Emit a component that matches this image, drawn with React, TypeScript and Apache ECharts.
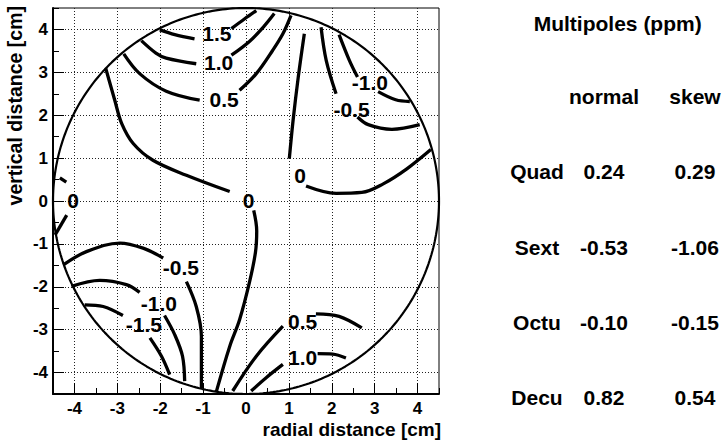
import React, { useEffect, useRef } from "react";
import * as echarts from "echarts";

const FONT = '"Liberation Sans", Arial, Helvetica, sans-serif';

// axes
const AXIS_MIN = -4.5;
const AXIS_MAX = 4.5;
const MAJOR_TICKS = [-4, -3, -2, -1, 0, 1, 2, 3, 4];
const MINOR_TICKS = [-4.5, -3.5, -2.5, -1.5, -0.5, 0.5, 1.5, 2.5, 3.5, 4.5];
const X_TITLE = "radial distance [cm]";
const Y_TITLE = "vertical distance [cm]";

// aperture (circle) radius in cm
const APERTURE_RADIUS = 4.5;

// contour segments (cm)
const c15_a = [[-2.01, 3.99], [-1.66, 3.88], [-1.2, 3.78]];
const c15_b = [[-0.34, 4.02], [-0.03, 4.25], [0.24, 4.44]];
const c10_a = [[-2.44, 3.74], [-2.1, 3.45], [-1.86, 3.33], [-1.16, 3.2]];
const c10_b = [[-0.34, 3.4], [0.08, 3.72], [0.4, 4.05], [0.66, 4.37]];
const c05_a = [[-2.85, 3.43], [-2.48, 2.97], [-1.86, 2.56], [-1.08, 2.35]];
const c05_b = [[-0.15, 2.58], [0.24, 2.97], [0.62, 3.51], [0.86, 3.9], [1.05, 4.33]];
const c00_ul = [[-3.27, 3.09], [-3.06, 2.35], [-2.9, 1.81], [-2.63, 1.34], [-2.17, 0.95], [-1.39, 0.6], [-0.38, 0.22]];
const c00_low = [[0.18, -0.22], [0.25, -0.7], [0.22, -1.2], [0.08, -1.9], [-0.15, -2.77], [-0.38, -3.39], [-0.69, -4.44]];
const c00_up = [[1.36, 3.9], [1.22, 2.9], [1.1, 1.9], [1.01, 0.99]];
const c00_right = [[1.4, 0.35], [2.1, 0.18], [2.7, 0.2], [3.2, 0.4], [3.75, 0.75], [4.31, 1.2]];
const c00_leftA = [[-4.34, 0.54], [-4.19, 0.44]];
const c00_leftB = [[-4.18, -0.33], [-4.45, -0.79]];
const cm05_ua = [[1.75, 4.05], [1.87, 3.28], [2.1, 2.5]];
const cm05_ub = [[2.6, 1.96], [2.85, 1.78], [3.4, 1.67], [4.05, 1.78]];
const cm10_ua = [[2.17, 3.88], [2.41, 3.28], [2.6, 2.89]];
const cm10_ub = [[3.08, 2.55], [3.49, 2.36], [3.82, 2.32]];
const cm05_la = [[-4.26, -1.49], [-3.72, -1.18], [-2.94, -0.98], [-2.4, -1.1], [-1.93, -1.33]];
const cm05_lb = [[-1.39, -1.88], [-1.16, -2.46], [-1.04, -3.16], [-1.04, -4.36]];
const cm10_la = [[-4.07, -1.99], [-3.41, -1.85], [-2.79, -1.95], [-2.48, -2.13]];
const cm10_lb = [[-1.9, -2.67], [-1.66, -3.12], [-1.48, -3.62], [-1.43, -4.2]];
const cm15_la = [[-3.76, -2.42], [-3.33, -2.46], [-2.87, -2.67]];
const cm15_lb = [[-2.24, -3.19], [-1.97, -3.62], [-1.78, -4.05]];
const c05_la = [[-0.31, -4.43], [0.24, -3.62], [0.86, -2.92]];
const c05_lb = [[1.63, -2.63], [2.17, -2.69], [2.7, -2.96]];
const c10_la = [[0.12, -4.43], [0.47, -4.12], [0.86, -3.81]];
const c10_lb = [[1.67, -3.56], [2.02, -3.57], [2.33, -3.66]];

const CONTOUR_SEGMENTS = [
  c15_a, c15_b, c10_a, c10_b, c05_a, c05_b,
  c00_ul, c00_low, c00_up, c00_right, c00_leftA, c00_leftB,
  cm05_ua, cm05_ub, cm10_ua, cm10_ub,
  cm05_la, cm05_lb, cm10_la, cm10_lb, cm15_la, cm15_lb,
  c05_la, c05_lb, c10_la, c10_lb,
];

// contour labels: [x, y, text]
const CONTOUR_LABELS: [number, number, string][] = [
  [-0.68, 3.9, "1.5"],
  [-0.64, 3.24, "1.0"],
  [-0.51, 2.36, "0.5"],
  [0.06, 0.01, "0"],
  [1.26, 0.6, "0"],
  [-4.03, 0.02, "0"],
  [2.46, 2.14, "-0.5"],
  [2.89, 2.77, "-1.0"],
  [-1.52, -1.56, "-0.5"],
  [-2.03, -2.38, "-1.0"],
  [-2.38, -2.88, "-1.5"],
  [1.32, -2.8, "0.5"],
  [1.32, -3.65, "1.0"],
];

// multipole table
const TABLE_TITLE = "Multipoles (ppm)";
const COLUMN_HEADERS = ["normal", "skew"];
const MULTIPOLE_NAMES = ["Quad", "Sext", "Octu", "Decu"];
const NORMAL_VALUES = [0.24, -0.53, -0.1, 0.82];
const SKEW_VALUES = [0.29, -1.06, -0.15, 0.54];

function circlePoints(r: number) {
  const pts: number[][] = [];
  for (let i = 0; i <= 360; i++) {
    const a = (i * Math.PI) / 180;
    pts.push([r * Math.cos(a), r * Math.sin(a)]);
  }
  return pts;
}

function txt(text: string, x: number, y: number, size: number, align = "center", extra: any = {}) {
  return {
    type: "text",
    x,
    y,
    ...extra,
    style: {
      text,
      fill: "#000",
      fontSize: size,
      fontWeight: "bold",
      fontFamily: FONT,
      align,
      textAlign: align,
      verticalAlign: "middle",
      textVerticalAlign: "middle",
    },
  };
}

export default function App() {
  const ref = useRef<HTMLDivElement>(null);
  useEffect(() => {
    document.body.style.margin = "0";
    const chart = echarts.init(ref.current!, undefined, { renderer: "svg" });

    const gridLine = { color: "#222", width: 1, type: [1, 2] as any };
    const mkAxis = (pos: string, major: boolean) => ({
      type: "value",
      min: AXIS_MIN,
      max: AXIS_MAX,
      position: pos,
      axisLine: major
        ? { show: true, onZero: false, lineStyle: { color: "#000", width: 2 } }
        : { show: false, onZero: false },
      axisTick: {
        show: true,
        inside: true,
        length: major ? 11 : 6,
        customValues: major ? MAJOR_TICKS : MINOR_TICKS,
        lineStyle: { color: "#000", width: 1 },
      },
      axisLabel: major
        ? {
            show: true,
            customValues: MAJOR_TICKS,
            fontSize: 17,
            fontWeight: "bold",
            fontFamily: FONT,
            color: "#000",
            margin: pos === "bottom" ? 6 : 5,
          }
        : { show: false },
      splitLine: major ? { show: true, lineStyle: gridLine } : { show: false },
    });

    const series: any[] = [];
    series.push({
      type: "line",
      xAxisIndex: 0,
      yAxisIndex: 0,
      data: circlePoints(APERTURE_RADIUS),
      showSymbol: false,
      symbol: "none",
      lineStyle: { color: "#000", width: 2.2 },
      silent: true,
    });
    CONTOUR_SEGMENTS.forEach((seg) => {
      series.push({
        type: "line",
        xAxisIndex: 0,
        yAxisIndex: 0,
        data: seg,
        smooth: 0.35,
        showSymbol: false,
        symbol: "none",
        lineStyle: { color: "#000", width: 3.3, cap: "butt" },
        silent: true,
      });
    });
    series.push({
      type: "scatter",
      xAxisIndex: 0,
      yAxisIndex: 0,
      symbolSize: 0,
      itemStyle: { opacity: 1, color: "#000" },
      data: CONTOUR_LABELS.map((l) => ({ value: [l[0], l[1]], name: l[2] })),
      label: {
        show: true,
        position: "inside",
        formatter: (p: any) => p.name,
        fontSize: 21,
        fontWeight: "bold",
        fontFamily: FONT,
        color: "#000",
        opacity: 1,
        textBorderWidth: 0,
      },
      silent: true,
    });

    const graphics: any[] = [];
    graphics.push(txt(X_TITLE, 441, 429, 19, "right"));
    graphics.push(txt(Y_TITLE, 15, 6, 19.5, "right", { rotation: Math.PI / 2 }));
    graphics.push(txt(TABLE_TITLE, 617.7, 23, 21));
    graphics.push(txt(COLUMN_HEADERS[0], 604, 96, 21));
    graphics.push(txt(COLUMN_HEADERS[1], 695, 96, 21));
    const rowY = [171.7, 247, 322.3, 397.6];
    MULTIPOLE_NAMES.forEach((n, i) => {
      graphics.push(txt(n, 537, rowY[i], 21));
      graphics.push(txt(NORMAL_VALUES[i].toFixed(2), 604, rowY[i], 21));
      graphics.push(txt(SKEW_VALUES[i].toFixed(2), 695, rowY[i], 21));
    });

    chart.setOption({
      animation: false,
      backgroundColor: "#fff",
      grid: {
        left: 53,
        top: 8,
        width: 386,
        height: 386,
        show: true,
        borderColor: "#000",
        borderWidth: 1,
        backgroundColor: "transparent",
      },
      xAxis: [mkAxis("bottom", true), mkAxis("bottom", false)],
      yAxis: [mkAxis("left", true), mkAxis("left", false)],
      series,
      graphic: graphics,
    });
    return () => chart.dispose();
  }, []);
  return (
    <div
      ref={ref}
      style={{ position: "fixed", left: 0, top: 0, width: 724, height: 443, background: "#fff" }}
    />
  );
}
